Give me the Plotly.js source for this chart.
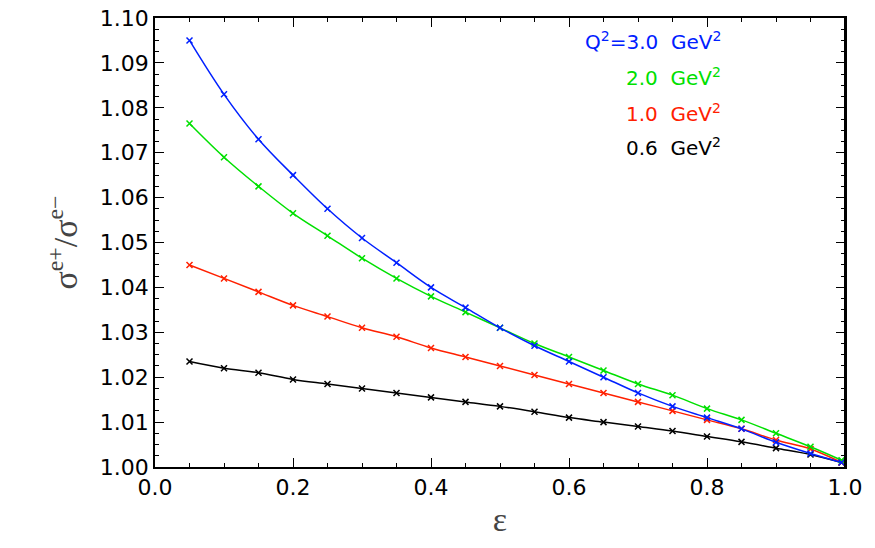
<html><head><script src="https://cdn.plot.ly/plotly-3.0.1.min.js"></script></head><body style="margin:0;overflow:hidden">
<div id="g" style="width:875px;height:548px"></div>
<script>
const eps=[0.05,0.1,0.15,0.2,0.25,0.3,0.35,0.4,0.45,0.5,0.55,0.6,0.65,0.7,0.75,0.8,0.85,0.9,0.95,0.995];
const q3=[1.095,1.083,1.073,1.065,1.0575,1.051,1.0455,1.040,1.0355,1.031,1.027,1.0235,1.020,1.0165,1.0135,1.011,1.0085,1.0055,1.003,1.001];
const q2=[1.0765,1.069,1.0625,1.0565,1.0515,1.0465,1.042,1.038,1.0345,1.031,1.0275,1.0245,1.0215,1.0185,1.016,1.013,1.0105,1.0075,1.0045,1.0015];
const q1=[1.045,1.042,1.039,1.036,1.0335,1.031,1.029,1.0265,1.0245,1.0225,1.0205,1.0185,1.0165,1.0145,1.0125,1.0105,1.0085,1.006,1.004,1.001];
const q06=[1.0235,1.022,1.021,1.0195,1.0185,1.0175,1.0165,1.0155,1.0145,1.0135,1.0123,1.011,1.010,1.009,1.008,1.0068,1.0056,1.0042,1.0028,1.001];
const labels=['Q<sup>2</sup>=3.0  GeV<sup>2</sup>','2.0  GeV<sup>2</sup>','1.0  GeV<sup>2</sup>','0.6  GeV<sup>2</sup>'];
const labelY=[1.0948,1.0868,1.0788,1.0712];
const series=[[q06,'#000000'],[q1,'#ff2000'],[q2,'#00e000'],[q3,'#0020ff']];
const data=series.map(([y,c])=>({x:eps,y:y,mode:'lines+markers',line:{color:c,width:1.5,shape:'spline'},marker:{symbol:'x-thin',size:6,line:{color:c,width:1.5}},showlegend:false}));
const ax={showgrid:false,zeroline:false,ticks:'inside',mirror:'allticks',showline:true,linecolor:'#000',linewidth:1.5,tickcolor:'#000',tickfont:{size:22,family:'DejaVu Sans',color:'#000'},ticklen:9};
const layout={width:875,height:548,margin:{l:155,r:30,t:18,b:81},plot_bgcolor:'#fff',
xaxis:Object.assign({},ax,{range:[0,1],dtick:0.2,tickformat:'.1f',minor:{ticks:'inside',ticklen:4,dtick:0.05,tickcolor:'#000'},title:{text:'ε',font:{size:34,family:'Liberation Serif'},standoff:8}}),
yaxis:Object.assign({},ax,{range:[1.0,1.1],dtick:0.01,tickformat:'.2f',minor:{ticks:'inside',ticklen:4,dtick:0.0025,tickcolor:'#000'},title:{text:'σ<sup>e+</sup>/σ<sup>e−</sup>',font:{size:34,family:'Liberation Serif'},standoff:12}}),
shapes:[{type:'line',xref:'paper',yref:'paper',x0:1,x1:1,y0:0,y1:1,line:{color:'#000',width:2}}],
annotations:labels.map((t,i)=>({x:0.823,y:labelY[i],xref:'x',yref:'y',text:t,showarrow:false,xanchor:'right',font:{size:20,family:'DejaVu Sans',color:series[3-i][1]}}))};
Plotly.newPlot('g',data,layout,{displayModeBar:false});
</script></body></html>
